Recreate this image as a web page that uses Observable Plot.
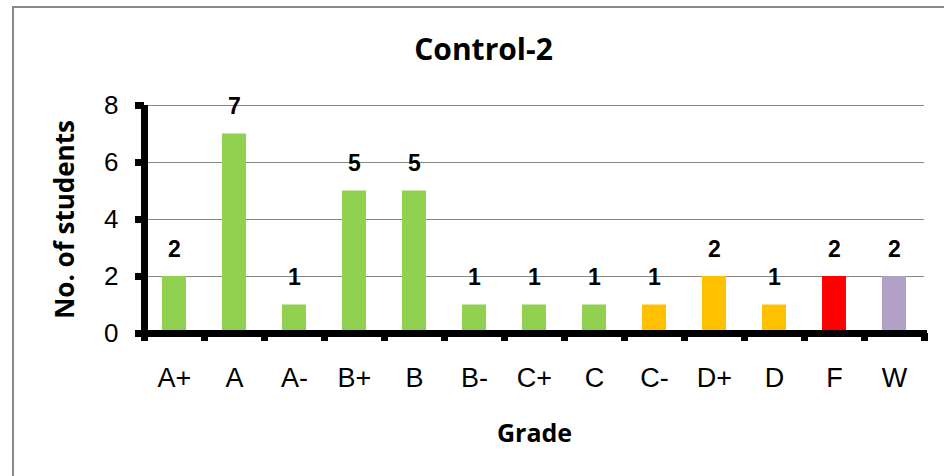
<!DOCTYPE html>
<html>
<head>
<meta charset="utf-8">
<script src="https://cdn.jsdelivr.net/npm/d3@7"></script>
<script src="https://cdn.jsdelivr.net/npm/@observablehq/plot@0.6"></script>
<style>
  html, body { margin: 0; padding: 0; background: #fff; overflow: hidden; }
  #wrap { position: relative; width: 944px; height: 476px; }
  #border { position: absolute; left: 12px; top: 6px; width: 1000px; height: 600px; border: 2px solid #8a8a8a; box-sizing: border-box; }
  #chart { position: absolute; left: 0; top: 0; }
</style>
</head>
<body>
<div id="wrap"><div id="border"></div><div id="chart"></div></div>
<script>
const title = "Control-2";
const xLabel = "Grade";
const yLabel = "No. of students";
const grades = ["A+", "A", "A-", "B+", "B", "B-", "C+", "C", "C-", "D+", "D", "F", "W"];
const counts = [2, 7, 1, 5, 5, 1, 1, 1, 1, 2, 1, 2, 2];
const colors = ["#92D050", "#92D050", "#92D050", "#92D050", "#92D050", "#92D050", "#92D050", "#92D050", "#FFC000", "#FFC000", "#FFC000", "#FF0000", "#B2A1C7"];
const yTicks = [0, 2, 4, 6, 8];
const gridLines = [2, 4, 6, 8];

const data = grades.map((g, i) => ({grade: g, count: counts[i], color: colors[i]}));

const W = 944, H = 476;
const mL = 144, mR = 20, mT = 105, mB = 143;
const step = (W - mL - mR) / grades.length;
const axisWidth = 7;

const numFont = "'Liberation Sans', Arial, sans-serif";
const labelFont = "'Open Sans', sans-serif";

const chart = Plot.plot({
  width: W,
  height: H,
  marginLeft: mL,
  marginRight: mR,
  marginTop: mT,
  marginBottom: mB,
  style: {fontFamily: numFont, background: "transparent", overflow: "visible"},
  x: {domain: grades, paddingInner: 0.6, paddingOuter: 0.3, label: null},
  y: {domain: [0, 8], label: null},
  marks: [
    Plot.ruleY(gridLines, {stroke: "#868686", strokeWidth: 1}),
    Plot.barY(data, {x: "grade", y: "count", fill: "color"}),
    Plot.text(data, {x: "grade", y: "count", text: d => String(d.count), lineAnchor: "bottom", dy: -20, fontSize: 23, fontWeight: "bold", fill: "#000"}),
    // x axis line
    Plot.ruleY([0], {stroke: "#000", strokeWidth: axisWidth, insetLeft: -6, insetRight: -3}),
    // y axis line
    Plot.ruleX(grades.slice(0, 1), {x: d => d, dx: -step / 2, y1: 0, y2: 8, insetTop: -3, stroke: "#000", strokeWidth: axisWidth}),
    // category boundary ticks
    Plot.ruleX(grades, {x: d => d, dx: -step / 2, y1: 0, y2: 0, insetBottom: -8, stroke: "#000", strokeWidth: axisWidth}),
    Plot.ruleX(grades.slice(-1), {x: d => d, dx: step / 2, y1: 0, y2: 0, insetBottom: -8, stroke: "#000", strokeWidth: axisWidth}),
    Plot.axisY({ticks: yTicks, tickSize: 9, tickPadding: 17, fontSize: 26, strokeWidth: axisWidth, stroke: "#000", fill: "#000", label: null}),
    Plot.axisX({tickSize: 0, tickPadding: 34, fontSize: 27, fill: "#000", label: null}),
    Plot.text([title], {frameAnchor: "top", dx: -51, dy: -55, lineAnchor: "middle", fontSize: 30, fontWeight: "bold", fontFamily: labelFont, fill: "#000"}),
    Plot.text([xLabel], {frameAnchor: "bottom", dy: 100, lineAnchor: "middle", fontSize: 25, fontWeight: "bold", fontFamily: labelFont, fill: "#000"}),
    Plot.text([yLabel], {frameAnchor: "left", dx: -79, rotate: -90, textAnchor: "middle", lineAnchor: "middle", fontSize: 26, fontWeight: "bold", fontFamily: labelFont, fill: "#000"})
  ]
});
document.getElementById("chart").appendChild(chart);
</script>
</body>
</html>
